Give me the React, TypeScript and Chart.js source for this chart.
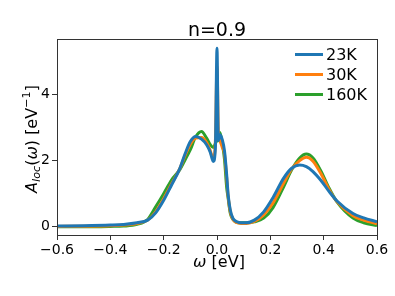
import React, { useEffect, useRef } from "react";
import { Chart, registerables } from "chart.js";

Chart.register(...registerables);

const omega = [-0.6, -0.5, -0.4, -0.35, -0.3, -0.26, -0.23, -0.2, -0.17, -0.14, -0.12, -0.1, -0.08, -0.058, -0.039, -0.025, -0.014, -0.006, 0, 0.005, 0.011, 0.02, 0.028, 0.036, 0.042, 0.05, 0.06, 0.075, 0.09, 0.11, 0.14, 0.175, 0.21, 0.25, 0.28, 0.31, 0.335, 0.36, 0.39, 0.42, 0.45, 0.51, 0.55, 0.6];
const a23K = [0.02, 0.03, 0.05, 0.07, 0.12, 0.2, 0.42, 0.8, 1.27, 1.75, 2.2, 2.58, 2.73, 2.65, 2.48, 2.25, 1.97, 2.4, 5.4, 2.6, 2.78, 2.63, 2.3, 1.6, 0.95, 0.5, 0.25, 0.15, 0.12, 0.12, 0.2, 0.45, 0.88, 1.47, 1.77, 1.87, 1.82, 1.67, 1.4, 1.07, 0.78, 0.4, 0.27, 0.15];
const a30K = [0.01, 0.015, 0.03, 0.05, 0.1, 0.2, 0.45, 0.85, 1.3, 1.75, 2.15, 2.5, 2.68, 2.7, 2.55, 2.3, 2.05, 2.6, 4.85, 2.9, 2.6, 2.4, 2.2, 1.5, 0.9, 0.45, 0.22, 0.12, 0.1, 0.1, 0.16, 0.36, 0.72, 1.32, 1.75, 2.0, 2.1, 1.98, 1.6, 1.13, 0.76, 0.33, 0.2, 0.09];
const a160K = [0.0, 0.0, 0.01, 0.02, 0.07, 0.22, 0.6, 1.0, 1.42, 1.72, 2.02, 2.33, 2.72, 2.88, 2.68, 2.48, 2.4, 2.52, 2.62, 2.75, 2.85, 2.5, 2.05, 1.21, 0.85, 0.4, 0.22, 0.13, 0.12, 0.12, 0.15, 0.26, 0.58, 1.21, 1.72, 2.08, 2.2, 2.08, 1.68, 1.17, 0.75, 0.26, 0.12, 0.04];
const seriesLabels = ["23K", "30K", "160K"];
const seriesColors = ["#1f77b4", "#ff7f0e", "#2ca02c"];
const xTicks = [-0.6, -0.4, -0.2, 0, 0.2, 0.4, 0.6];
const yTicks = [0, 2, 4];
const titleText = "n=0.9";

const FONT = "'DejaVu Sans', sans-serif";

type Seg = { t: string; italic?: boolean; scale?: number; shift?: number };

function drawSegs(ctx: CanvasRenderingContext2D, segs: Seg[], size: number, cx: number, baseline: number) {
  const fontFor = (s: Seg) => `${s.italic ? "italic " : ""}${Math.round(size * (s.scale || 1) * 10) / 10}px ${FONT}`;
  let total = 0;
  for (const s of segs) {
    ctx.font = fontFor(s);
    total += ctx.measureText(s.t).width;
  }
  let x = cx - total / 2;
  ctx.textAlign = "left";
  ctx.textBaseline = "alphabetic";
  for (const s of segs) {
    ctx.font = fontFor(s);
    ctx.fillText(s.t, x, baseline + (s.shift || 0) * size);
    x += ctx.measureText(s.t).width;
  }
}

const decor = {
  id: "decor",
  afterDraw(chart: any) {
    const ctx: CanvasRenderingContext2D = chart.ctx;
    const { left, right, top, bottom } = chart.chartArea;
    ctx.save();
    ctx.strokeStyle = "#333";
    ctx.lineWidth = 1;
    ctx.strokeRect(Math.round(left) + 0.5, Math.round(top) + 0.5, Math.round(right - left), Math.round(bottom - top));
    ctx.fillStyle = "#000";
    drawSegs(ctx, [{ t: titleText }], 19, (left + right) / 2, 36);
    drawSegs(ctx, [{ t: "ω", italic: true }, { t: " [eV]" }], 16, (left + right) / 2 + 2, 267);
    ctx.save();
    ctx.translate(36.5, 139);
    ctx.rotate(-Math.PI / 2);
    drawSegs(
      ctx,
      [
        { t: "A", italic: true },
        { t: "loc", italic: true, scale: 0.7, shift: 0.22 },
        { t: "(" },
        { t: "ω", italic: true },
        { t: ") [eV" },
        { t: "−1", scale: 0.7, shift: -0.42 },
        { t: "]" },
      ],
      16,
      0,
      0
    );
    ctx.restore();
    const rows = [54.5, 74.5, 94.5];
    for (let i = 0; i < seriesLabels.length; i++) {
      ctx.strokeStyle = seriesColors[i];
      ctx.lineWidth = 3;
      ctx.beginPath();
      ctx.moveTo(295, rows[i]);
      ctx.lineTo(323, rows[i]);
      ctx.stroke();
      ctx.fillStyle = "#000";
      ctx.font = `16px ${FONT}`;
      ctx.textAlign = "left";
      ctx.textBaseline = "middle";
      ctx.fillText(seriesLabels[i], 326, rows[i] + 1);
    }
    ctx.restore();
  },
};

export default function App() {
  const ref = useRef<HTMLCanvasElement | null>(null);
  useEffect(() => {
    document.body.style.margin = "0";
    const series = [a23K, a30K, a160K];
    const chart = new Chart(ref.current!, {
      type: "line",
      data: {
        datasets: series.map((s, i) => ({
          label: seriesLabels[i],
          data: omega.map((x, j) => ({ x, y: s[j] })),
          borderColor: seriesColors[i],
          backgroundColor: seriesColors[i],
          borderWidth: 3,
          pointRadius: 0,
          cubicInterpolationMode: "monotone" as const,
          fill: false,
        })),
      },
      options: {
        responsive: false,
        animation: false,
        events: [],
        layout: { padding: { top: 39, right: 18, left: 0, bottom: 0 } },
        plugins: { legend: { display: false }, title: { display: false }, tooltip: { enabled: false } },
        scales: {
          x: {
            type: "linear",
            min: -0.6,
            max: 0.6,
            afterBuildTicks: (s: any) => {
              s.ticks = xTicks.map((v) => ({ value: v }));
            },
            afterFit: (s: any) => {
              s.height = 61;
            },
            grid: { drawOnChartArea: false, drawTicks: true, tickLength: 5, color: "#333" },
            border: { display: false },
            ticks: {
              color: "#000",
              font: { family: FONT, size: 14 },
              padding: 2,
              maxRotation: 0,
              callback: (v: any) => (Number(v) < 0 ? "−" : "") + Math.abs(Number(v)).toFixed(1),
            },
          },
          y: {
            type: "linear",
            min: -0.25,
            max: 5.68,
            afterBuildTicks: (s: any) => {
              s.ticks = yTicks.map((v) => ({ value: v }));
            },
            afterFit: (s: any) => {
              s.width = 57;
            },
            grid: { drawOnChartArea: false, drawTicks: true, tickLength: 5, color: "#333" },
            border: { display: false },
            ticks: {
              color: "#000",
              font: { family: FONT, size: 14 },
              padding: 2,
              callback: (v: any) => String(v),
            },
          },
        },
      },
      plugins: [decor],
    });
    return () => chart.destroy();
  }, []);
  return <canvas ref={ref} width={395} height={296} style={{ display: "block" }} />;
}
